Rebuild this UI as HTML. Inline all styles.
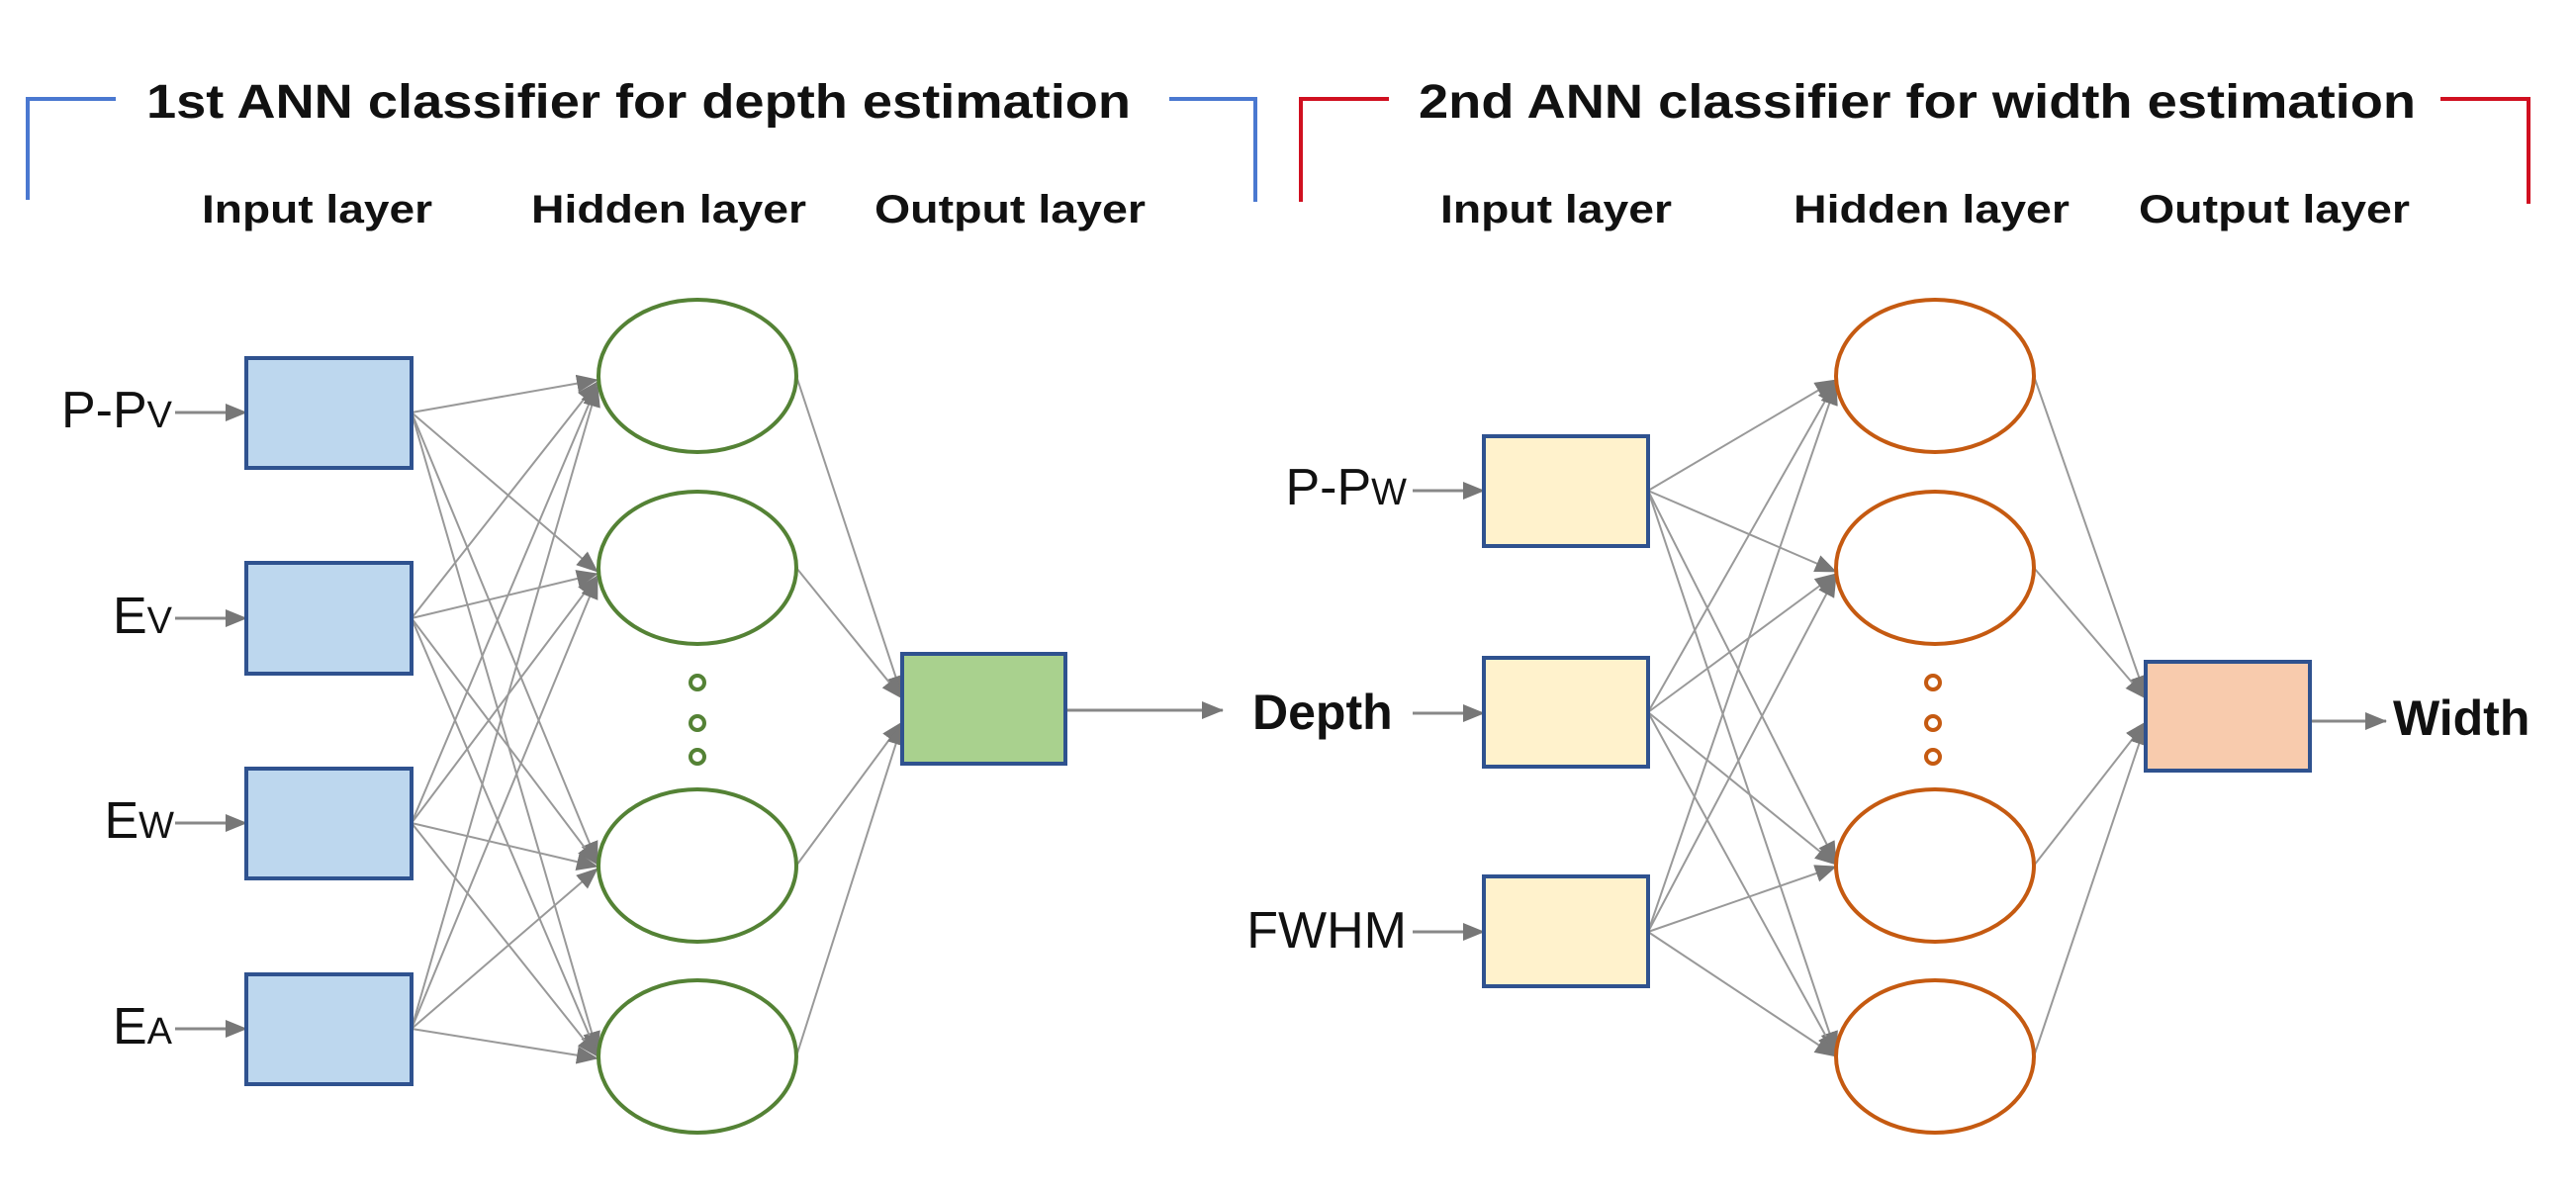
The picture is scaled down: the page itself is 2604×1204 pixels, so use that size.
<!DOCTYPE html>
<html><head><meta charset="utf-8"><style>
html,body{margin:0;padding:0;background:#fff}
svg{display:block}
text{font-family:"Liberation Sans",Arial,sans-serif;fill:#111}
</style></head><body>
<svg width="2604" height="1204" viewBox="0 0 2604 1204" xmlns="http://www.w3.org/2000/svg">
<defs>
<marker id="a" markerWidth="10" markerHeight="10" refX="9" refY="5" orient="auto" markerUnits="userSpaceOnUse" viewBox="0 0 10 10">
<path d="M0,0 L10,5 L0,10 z" fill="#777"/></marker>
<marker id="b" markerWidth="22" markerHeight="18" refX="21" refY="9" orient="auto" markerUnits="userSpaceOnUse" viewBox="0 0 22 18">
<path d="M0,0 L22,9 L0,18 z" fill="#777"/></marker>
</defs>
<!-- brackets -->
<polyline points="28,202 28,100 117,100" fill="none" stroke="#4a78d0" stroke-width="4"/>
<polyline points="1182,100 1269,100 1269,204" fill="none" stroke="#4a78d0" stroke-width="4"/>
<polyline points="1315,204 1315,100 1404,100" fill="none" stroke="#d01020" stroke-width="4"/>
<polyline points="2467,100 2556,100 2556,206" fill="none" stroke="#d01020" stroke-width="4"/>
<text x="148" y="119" font-size="48" font-weight="bold" textLength="995" lengthAdjust="spacingAndGlyphs">1st ANN classifier for depth estimation</text>
<text x="1434" y="119" font-size="48" font-weight="bold" textLength="1008" lengthAdjust="spacingAndGlyphs">2nd ANN classifier for width estimation</text>
<g font-size="40" font-weight="bold">
<text x="204" y="225" textLength="233" lengthAdjust="spacingAndGlyphs">Input layer</text>
<text x="537" y="225" textLength="278" lengthAdjust="spacingAndGlyphs">Hidden layer</text>
<text x="884" y="225" textLength="274" lengthAdjust="spacingAndGlyphs">Output layer</text>
<text x="1456" y="225" textLength="234" lengthAdjust="spacingAndGlyphs">Input layer</text>
<text x="1813" y="225" textLength="279" lengthAdjust="spacingAndGlyphs">Hidden layer</text>
<text x="2162" y="225" textLength="274" lengthAdjust="spacingAndGlyphs">Output layer</text>
</g>
<!-- connections left -->
<g stroke="#999" stroke-width="2" fill="none" marker-end="url(#b)">
<line x1="416" y1="417" x2="604" y2="384"/><line x1="416" y1="417" x2="604" y2="578"/><line x1="416" y1="417" x2="604" y2="872"/><line x1="416" y1="417" x2="604" y2="1064"/>
<line x1="416" y1="625" x2="604" y2="386"/><line x1="416" y1="625" x2="604" y2="580"/><line x1="416" y1="625" x2="604" y2="874"/><line x1="416" y1="625" x2="604" y2="1066"/>
<line x1="416" y1="832" x2="604" y2="388"/><line x1="416" y1="832" x2="604" y2="582"/><line x1="416" y1="832" x2="604" y2="876"/><line x1="416" y1="832" x2="604" y2="1068"/>
<line x1="416" y1="1040" x2="604" y2="390"/><line x1="416" y1="1040" x2="604" y2="584"/><line x1="416" y1="1040" x2="604" y2="878"/><line x1="416" y1="1040" x2="604" y2="1070"/>
<line x1="805" y1="380" x2="912" y2="704"/><line x1="805" y1="574" x2="912" y2="706"/><line x1="805" y1="875" x2="912" y2="730"/><line x1="805" y1="1068" x2="912" y2="732"/>
</g>
<g stroke="#999" stroke-width="2" fill="none" marker-end="url(#b)">
<line x1="1666" y1="496" x2="1856" y2="384"/><line x1="1666" y1="496" x2="1856" y2="578"/><line x1="1666" y1="496" x2="1856" y2="872"/><line x1="1666" y1="496" x2="1856" y2="1064"/>
<line x1="1666" y1="720" x2="1856" y2="386"/><line x1="1666" y1="720" x2="1856" y2="580"/><line x1="1666" y1="720" x2="1856" y2="874"/><line x1="1666" y1="720" x2="1856" y2="1066"/>
<line x1="1666" y1="942" x2="1856" y2="388"/><line x1="1666" y1="942" x2="1856" y2="582"/><line x1="1666" y1="942" x2="1856" y2="876"/><line x1="1666" y1="942" x2="1856" y2="1068"/>
<line x1="2056" y1="380" x2="2169" y2="704"/><line x1="2056" y1="574" x2="2169" y2="706"/><line x1="2056" y1="875" x2="2169" y2="730"/><line x1="2056" y1="1068" x2="2169" y2="732"/>
</g>
<!-- input arrows -->
<g stroke="#888" stroke-width="3" fill="none" marker-end="url(#b)">
<line x1="177" y1="417" x2="249" y2="417"/><line x1="177" y1="625" x2="249" y2="625"/><line x1="177" y1="832" x2="249" y2="832"/><line x1="177" y1="1040" x2="249" y2="1040"/>
<line x1="1077" y1="718" x2="1236" y2="718"/>
<line x1="1428" y1="496" x2="1500" y2="496"/><line x1="1428" y1="721" x2="1500" y2="721"/><line x1="1428" y1="942" x2="1500" y2="942"/>
<line x1="2335" y1="729" x2="2412" y2="729"/>
</g>
<!-- boxes -->
<g fill="#bdd7ee" stroke="#2f528f" stroke-width="4">
<rect x="249" y="362" width="167" height="111"/><rect x="249" y="569" width="167" height="112"/>
<rect x="249" y="777" width="167" height="111"/><rect x="249" y="985" width="167" height="111"/>
</g>
<rect x="912" y="661" width="165" height="111" fill="#a9d18e" stroke="#2f528f" stroke-width="4"/>
<g fill="#fff2cc" stroke="#2f528f" stroke-width="4">
<rect x="1500" y="441" width="166" height="111"/><rect x="1500" y="665" width="166" height="110"/><rect x="1500" y="886" width="166" height="111"/>
</g>
<rect x="2169" y="669" width="166" height="110" fill="#f8cbad" stroke="#2f528f" stroke-width="4"/>
<!-- ellipses -->
<g fill="#fff" stroke="#548235" stroke-width="4">
<ellipse cx="705" cy="380" rx="100" ry="77"/><ellipse cx="705" cy="574" rx="100" ry="77"/>
<ellipse cx="705" cy="875" rx="100" ry="77"/><ellipse cx="705" cy="1068" rx="100" ry="77"/>
<circle cx="705" cy="690" r="7"/><circle cx="705" cy="731" r="7"/><circle cx="705" cy="765" r="7"/>
</g>
<g fill="#fff" stroke="#c55a11" stroke-width="4">
<ellipse cx="1956" cy="380" rx="100" ry="77"/><ellipse cx="1956" cy="574" rx="100" ry="77"/>
<ellipse cx="1956" cy="875" rx="100" ry="77"/><ellipse cx="1956" cy="1068" rx="100" ry="77"/>
<circle cx="1954" cy="690" r="7"/><circle cx="1954" cy="731" r="7"/><circle cx="1954" cy="765" r="7"/>
</g>
<!-- labels -->
<g font-size="52" text-anchor="end">
<text x="174" y="432">P-P<tspan font-size="38">V</tspan></text>
<text x="174" y="640">E<tspan font-size="38">V</tspan></text>
<text x="176" y="847">E<tspan font-size="38">W</tspan></text>
<text x="174" y="1055">E<tspan font-size="38">A</tspan></text>
<text x="1422" y="510">P-P<tspan font-size="38">W</tspan></text>
<text x="1422" y="958">FWHM</text>
</g>
<text x="1266" y="737" font-size="50" font-weight="bold">Depth</text>
<text x="2419" y="743" font-size="50" font-weight="bold">Width</text>
</svg>
</body></html>
